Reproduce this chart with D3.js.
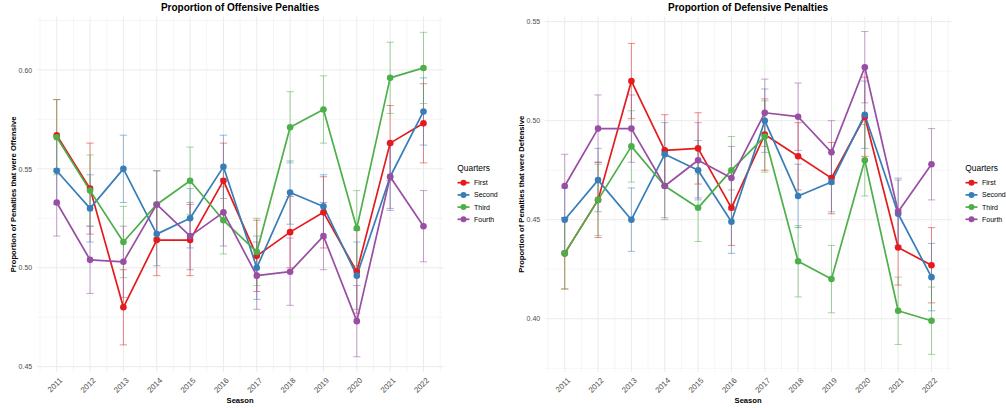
<!DOCTYPE html>
<html>
<head>
<meta charset="utf-8">
<script src="https://cdn.jsdelivr.net/npm/d3@7"></script>
<style>
  body { margin: 0; background: #fff; }
  svg { display: block; }
  text { font-family: "Liberation Sans", Arial, Helvetica, sans-serif; }
</style>
</head>
<body>
<svg id="chart" width="1006" height="408"></svg>
<script>
// Seasons and quarter groups
const seasons = [2011, 2012, 2013, 2014, 2015, 2016, 2017, 2018, 2019, 2020, 2021, 2022];
const quarters = ["First", "Second", "Third", "Fourth"];
const quarterColors = ["#E41A1C", "#377EB8", "#4DAF4A", "#984EA3"];

// Proportion of penalties that were offensive, by quarter, with CI half-widths
const offFirst  = [0.567, 0.540, 0.480, 0.514, 0.514, 0.544, 0.506, 0.518, 0.528, 0.498, 0.563, 0.573];
const offSecond = [0.549, 0.530, 0.550, 0.517, 0.525, 0.551, 0.500, 0.538, 0.531, 0.496, 0.546, 0.579];
const offThird  = [0.566, 0.539, 0.513, 0.532, 0.544, 0.524, 0.508, 0.571, 0.580, 0.520, 0.596, 0.601];
const offFourth = [0.533, 0.504, 0.503, 0.532, 0.516, 0.528, 0.496, 0.498, 0.516, 0.473, 0.546, 0.521];
const offFirstErr  = [0.018, 0.023, 0.019, 0.018, 0.018, 0.019, 0.018, 0.018, 0.018, 0.021, 0.019, 0.020];
const offSecondErr = [0.017, 0.017, 0.017, 0.016, 0.015, 0.016, 0.016, 0.016, 0.016, 0.017, 0.016, 0.017];
const offThirdErr  = [0.019, 0.018, 0.018, 0.017, 0.017, 0.017, 0.017, 0.018, 0.017, 0.019, 0.018, 0.018];
const offFourthErr = [0.017, 0.017, 0.018, 0.017, 0.017, 0.017, 0.017, 0.017, 0.017, 0.018, 0.017, 0.018];

// Proportion of penalties that were defensive, by quarter, with CI half-widths
const defFirst  = [0.433, 0.460, 0.520, 0.485, 0.486, 0.456, 0.493, 0.482, 0.471, 0.502, 0.436, 0.427];
const defSecond = [0.450, 0.470, 0.450, 0.483, 0.475, 0.449, 0.500, 0.462, 0.469, 0.503, 0.453, 0.421];
const defThird  = [0.433, 0.460, 0.487, 0.467, 0.456, 0.475, 0.492, 0.429, 0.420, 0.480, 0.404, 0.399];
const defFourth = [0.467, 0.496, 0.496, 0.467, 0.480, 0.471, 0.504, 0.502, 0.484, 0.527, 0.454, 0.478];
const defFirstErr  = [0.018, 0.019, 0.019, 0.018, 0.018, 0.019, 0.018, 0.017, 0.018, 0.020, 0.019, 0.019];
const defSecondErr = [0.016, 0.016, 0.016, 0.016, 0.015, 0.016, 0.016, 0.016, 0.015, 0.017, 0.017, 0.017];
const defThirdErr  = [0.018, 0.018, 0.018, 0.017, 0.017, 0.017, 0.018, 0.018, 0.017, 0.018, 0.017, 0.017];
const defFourthErr = [0.016, 0.017, 0.017, 0.016, 0.019, 0.016, 0.017, 0.017, 0.016, 0.018, 0.017, 0.018];

// Axis ticks
const offYTicks = [0.45, 0.50, 0.55, 0.60];
const offYMinor = [0.475, 0.525, 0.575, 0.625];
const defYTicks = [0.40, 0.45, 0.50, 0.55];
const defYMinor = [0.375, 0.425, 0.475, 0.525];

const svg = d3.select("#chart");

function buildSeries(values, errs) {
  return quarters.map((q, i) => ({
    quarter: q,
    color: quarterColors[i],
    points: seasons.map((s, j) => ({ season: s, value: values[i][j], err: errs[i][j] }))
  }));
}

function drawPanel(cfg) {
  const g = svg.append("g").attr("transform", `translate(${cfg.offset},0)`);
  const left = 36.7, right = 443.5, top = 16.7, bottom = 372;

  const x = d3.scaleLinear().domain([2010.4, 2022.6]).range([left, right]);
  const y = d3.scaleLinear().domain(cfg.yDomain).range([bottom, top]);

  // grid: minor then major
  const xMinor = d3.range(2010.5, 2023, 1);
  g.append("g").selectAll("line").data(xMinor).join("line")
    .attr("x1", d => x(d)).attr("x2", d => x(d)).attr("y1", top).attr("y2", bottom)
    .attr("stroke", "#f3f3f3").attr("stroke-width", 0.8);
  g.append("g").selectAll("line").data(cfg.yMinor).join("line")
    .attr("x1", left).attr("x2", right).attr("y1", d => y(d)).attr("y2", d => y(d))
    .attr("stroke", "#f3f3f3").attr("stroke-width", 0.8);
  g.append("g").selectAll("line").data(seasons).join("line")
    .attr("x1", d => x(d)).attr("x2", d => x(d)).attr("y1", top).attr("y2", bottom)
    .attr("stroke", "#ebebeb").attr("stroke-width", 1);
  g.append("g").selectAll("line").data(cfg.yTicks).join("line")
    .attr("x1", left).attr("x2", right).attr("y1", d => y(d)).attr("y2", d => y(d))
    .attr("stroke", "#ebebeb").attr("stroke-width", 1);

  // axes (text only, no domain line)
  const yAxis = g.append("g").attr("transform", `translate(${left},0)`)
    .call(d3.axisLeft(y).tickValues(cfg.yTicks).tickFormat(d3.format(".2f")).tickSize(0).tickPadding(4.5));
  yAxis.select(".domain").remove();
  yAxis.selectAll("text").attr("font-size", 7).attr("fill", "#4d4d4d")
    .attr("font-family", "Liberation Sans, Arial, sans-serif");

  const xAxis = g.append("g").attr("transform", `translate(0,${bottom})`)
    .call(d3.axisBottom(x).tickValues(seasons).tickFormat(d3.format("d")).tickSize(0));
  xAxis.select(".domain").remove();
  xAxis.selectAll("text")
    .attr("font-size", 7.8).attr("fill", "#4d4d4d")
    .attr("font-family", "Liberation Sans, Arial, sans-serif")
    .attr("text-anchor", "end")
    .attr("dy", 0).attr("y", 0)
    .attr("transform", "translate(5.5,9) rotate(-45)");

  // titles
  g.append("text").attr("x", (left + right) / 2).attr("y", 11)
    .attr("text-anchor", "middle").attr("font-size", 10).attr("font-weight", "bold")
    .text(cfg.title);
  g.append("text").attr("x", (left + right) / 2).attr("y", 403)
    .attr("text-anchor", "middle").attr("font-size", 7.6).attr("font-weight", "bold")
    .text("Season");
  g.append("text")
    .attr("transform", `translate(16,${(top + bottom) / 2}) rotate(-90)`)
    .attr("text-anchor", "middle").attr("font-size", 7.6).attr("font-weight", "bold")
    .text(cfg.yTitle);

  const series = buildSeries(cfg.values, cfg.errs);
  const capHalf = 0.11;

  // error bars
  series.forEach(s => {
    const eg = g.append("g").attr("stroke", s.color).attr("stroke-opacity", 0.5).attr("stroke-width", 1);
    eg.selectAll("line.v").data(s.points).join("line").attr("class", "v")
      .attr("x1", d => x(d.season)).attr("x2", d => x(d.season))
      .attr("y1", d => y(d.value - d.err)).attr("y2", d => y(d.value + d.err));
    eg.selectAll("line.t").data(s.points).join("line").attr("class", "t")
      .attr("x1", d => x(d.season - capHalf)).attr("x2", d => x(d.season + capHalf))
      .attr("y1", d => y(d.value + d.err)).attr("y2", d => y(d.value + d.err));
    eg.selectAll("line.b").data(s.points).join("line").attr("class", "b")
      .attr("x1", d => x(d.season - capHalf)).attr("x2", d => x(d.season + capHalf))
      .attr("y1", d => y(d.value - d.err)).attr("y2", d => y(d.value - d.err));
  });

  // lines
  const line = d3.line().x(d => x(d.season)).y(d => y(d.value));
  series.forEach(s => {
    g.append("path").datum(s.points).attr("d", line)
      .attr("fill", "none").attr("stroke", s.color).attr("stroke-width", 1.7)
      .attr("stroke-linejoin", "round");
  });

  // points
  series.forEach(s => {
    g.append("g").selectAll("circle").data(s.points).join("circle")
      .attr("cx", d => x(d.season)).attr("cy", d => y(d.value)).attr("r", 3.3)
      .attr("fill", s.color);
  });

  // legend
  const lg = g.append("g");
  lg.append("text").attr("x", 457.3).attr("y", 171).attr("font-size", 8.4).text("Quarters");
  quarters.forEach((q, i) => {
    const cy = 182.7 + i * 12.2;
    lg.append("line").attr("x1", 457.5).attr("x2", 469.5).attr("y1", cy).attr("y2", cy)
      .attr("stroke", quarterColors[i]).attr("stroke-width", 1.7);
    lg.append("circle").attr("cx", 463.5).attr("cy", cy).attr("r", 3).attr("fill", quarterColors[i]);
    lg.append("text").attr("x", 474).attr("y", cy).attr("dy", "0.35em")
      .attr("font-size", 7).text(q);
  });
}

drawPanel({
  offset: 0,
  title: "Proportion of Offensive Penalties",
  yTitle: "Proportion of Penalties that were Offensive",
  yDomain: [0.4473, 0.6269],
  yTicks: offYTicks,
  yMinor: offYMinor,
  values: [offFirst, offSecond, offThird, offFourth],
  errs: [offFirstErr, offSecondErr, offThirdErr, offFourthErr]
});

drawPanel({
  offset: 508,
  title: "Proportion of Defensive Penalties",
  yTitle: "Proportion of Penalties that were Defensive",
  yDomain: [0.3731, 0.5525],
  yTicks: defYTicks,
  yMinor: defYMinor,
  values: [defFirst, defSecond, defThird, defFourth],
  errs: [defFirstErr, defSecondErr, defThirdErr, defFourthErr]
});
</script>
</body>
</html>
